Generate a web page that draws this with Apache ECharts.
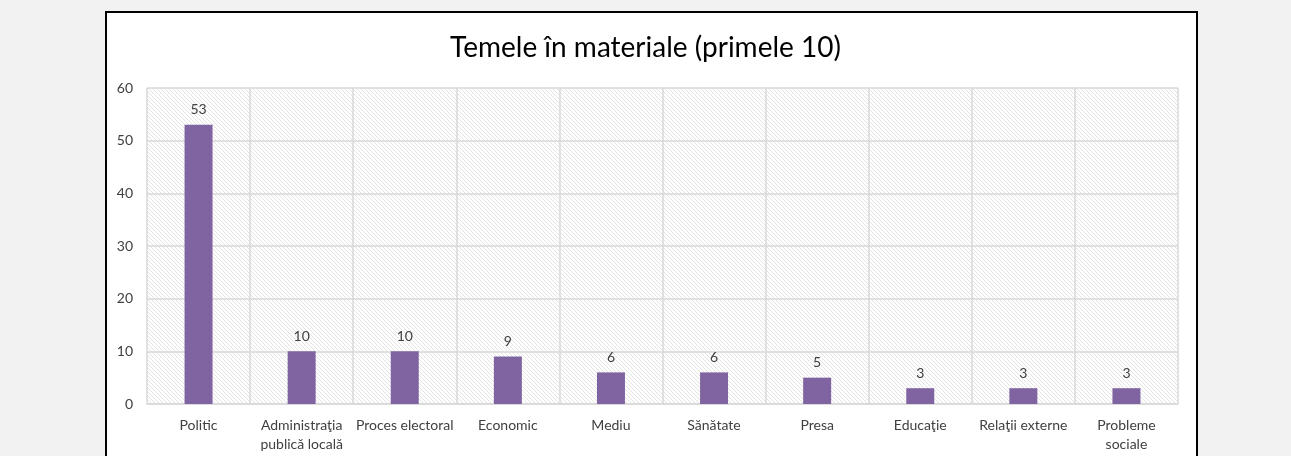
<!DOCTYPE html>
<html>
<head>
<meta charset="utf-8">
<script src="https://cdn.jsdelivr.net/npm/echarts@6/dist/echarts.min.js"></script>
<style>
  html, body { margin: 0; padding: 0; background: #f2f2f2; overflow: hidden; }
  #frame { position: absolute; left: 105px; top: 11px; width: 1089px; height: 500px; background: #fff; border: 2px solid #000; }
  #main { position: absolute; left: 0; top: 0; width: 1291px; height: 456px; }
</style>
</head>
<body>
<div id="frame"></div>
<div id="main"></div>
<script>
// Temele în materiale (primele 10)
const categories = ['Politic', 'Administraţia\npublică locală', 'Proces electoral', 'Economic', 'Mediu',
  'Sănătate', 'Presa', 'Educaţie', 'Relaţii externe', 'Probleme\nsociale'];
const counts = [53, 10, 10, 9, 6, 6, 5, 3, 3, 3];
const yTicks = [0, 10, 20, 30, 40, 50, 60];

// hasura diagonala din fundalul zonei de desen
let tile = document.createElement('canvas');
tile.width = 4;
tile.height = 4;
let ctx = tile.getContext('2d');
ctx.fillStyle = '#ffffff';
ctx.fillRect(0, 0, 4, 4);
ctx.fillStyle = '#e3e3e3';
for (let i = 0; i < 4; i++) {
  ctx.fillRect(i, i, 1, 1);
}

let font = 'Lato, "Noto Sans", sans-serif';

let option = {
  animation: false,
  title: {
    text: 'Temele în materiale (primele 10)',
    left: 'center',
    top: 29,
    textStyle: { fontFamily: font, fontSize: 28, fontWeight: 'normal', color: '#000' }
  },
  grid: {
    left: 147,
    right: 113,
    top: 88,
    bottom: 52,
    show: true,
    borderWidth: 0,
    backgroundColor: { image: tile, repeat: 'repeat' }
  },
  xAxis: {
    type: 'category',
    data: categories,
    axisLine: { lineStyle: { color: '#d9d9d9', width: 1.5 } },
    axisTick: { show: false },
    splitLine: { show: true, interval: 0, lineStyle: { color: '#d9d9d9', width: 1.5 } },
    axisLabel: {
      interval: 0,
      margin: 12,
      fontFamily: font,
      fontSize: 14,
      lineHeight: 19,
      color: '#404040'
    }
  },
  yAxis: {
    type: 'value',
    min: yTicks[0],
    max: yTicks[yTicks.length - 1],
    interval: 10,
    axisLine: { show: false },
    axisTick: { show: false },
    splitLine: { lineStyle: { color: '#d9d9d9', width: 1.5 } },
    axisLabel: { margin: 14, fontFamily: font, fontSize: 14, color: '#404040' }
  },
  series: [
    {
      type: 'bar',
      data: counts,
      barWidth: 28,
      itemStyle: { color: '#8064a2' },
      label: {
        show: true,
        position: 'top',
        distance: 8,
        fontFamily: font,
        fontSize: 14,
        color: '#404040'
      }
    }
  ]
};

let myChart = echarts.init(document.getElementById('main'));
myChart.setOption(option);
</script>
</body>
</html>
